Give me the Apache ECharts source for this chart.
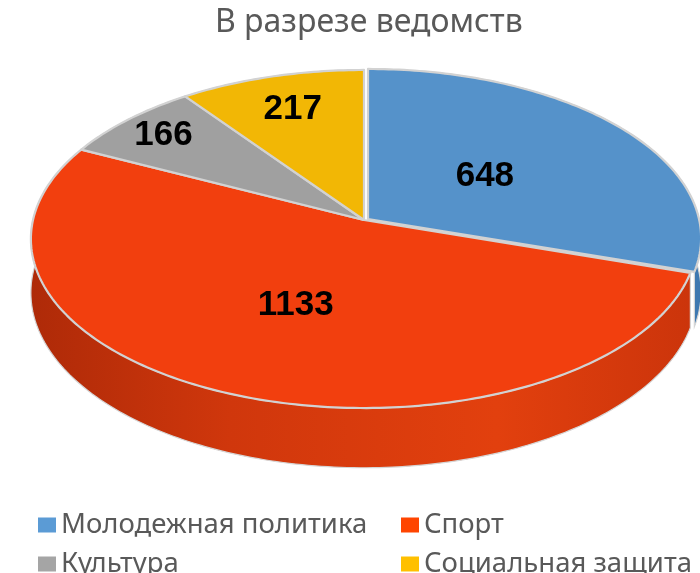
<!DOCTYPE html>
<html>
<head>
<meta charset="utf-8">
<script src="https://cdn.jsdelivr.net/npm/echarts@6/dist/echarts.min.js"></script>
<style>
  html, body { margin: 0; padding: 0; background: #fff; }
  #chart { width: 700px; height: 573px; }
</style>
</head>
<body>
<div id="chart"></div>
<script>
// данные диаграммы
var categories = ['Молодежная политика', 'Спорт', 'Культура', 'Социальная защита'];
var values = [648, 1133, 166, 217];

var topColors = ['#5592CA', '#F23F0E', '#A0A0A0', '#F2B705'];
var wallColors = ['#3E78B0', null, '#7F7F7F', '#C99600'];
var legendColors = ['#5B9BD5', '#FF4500', '#A5A5A5', '#FFC000'];

// геометрия "3D" эллипса (перспектива)
var cx = 364, cy = 220, RX = 331, RY = 166.9, K = -0.1124, T = 53;
var labelR = [0.45, 0.52, 0.84, 0.75];
var explode = [[4, -1], [0, 0], [0, 0], [0, 0]];

var total = values.reduce(function (a, b) { return a + b; }, 0);
var starts = [];
var acc = 0;
values.forEach(function (v) { starts.push(acc); acc += v; });

function proj(theta, f, off) {
  var u = f * Math.sin(theta), v = -f * Math.cos(theta);
  var s = 1 / (1 + K * v);
  return [cx + RX * u * s + off[0], cy + RY * v * s + off[1]];
}
function wallDrop(theta) {
  var v = -Math.cos(theta);
  return T / (1 + K * v);
}

var redWall = {
  type: 'linear', x: 30, y: 0, x2: 697, y2: 0, global: true,
  colorStops: [
    { offset: 0, color: '#AE2A08' },
    { offset: 0.3, color: '#D0370C' },
    { offset: 0.7, color: '#E2400E' },
    { offset: 1, color: '#CB340B' }
  ]
};

function renderItem(params, api) {
  var i = params.dataIndex;
  var val = api.value(0);
  var a0 = starts[i] / total * Math.PI * 2;
  var a1 = (starts[i] + val) / total * Math.PI * 2;
  var off = explode[i];
  var n = Math.max(4, Math.ceil((a1 - a0) / (Math.PI / 180)));
  var topPts = [proj(0, 0, off)];
  var rimTop = [], rimBot = [];
  for (var k = 0; k <= n; k++) {
    var t = a0 + (a1 - a0) * k / n;
    var p = proj(t, 1, off);
    topPts.push(p);
    rimTop.push(p);
    rimBot.push([p[0], p[1] + wallDrop(t)]);
  }
  var wallPts = rimTop.concat(rimBot.slice().reverse());
  var mid = (a0 + a1) / 2;
  var lp = proj(mid, labelR[i], off);
  return {
    type: 'group',
    children: [
      {
        type: 'polygon',
        z2: 1,
        shape: { points: wallPts },
        style: { fill: wallColors[i] || redWall, stroke: '#D6D6D6', lineWidth: 1.2 }
      },
      {
        type: 'polygon',
        z2: 10,
        shape: { points: topPts },
        style: { fill: topColors[i], stroke: '#D2D2D2', lineWidth: 2.2, lineJoin: 'round' }
      },
      {
        type: 'text',
        z2: 20,
        x: lp[0],
        y: lp[1],
        style: {
          text: String(val),
          fill: '#000',
          font: 'bold 35px "Liberation Sans", Arial, sans-serif',
          align: 'center',
          verticalAlign: 'middle'
        }
      }
    ]
  };
}

var chart = echarts.init(document.getElementById('chart'), null, { renderer: 'canvas' });

var pieData = categories.map(function (c, i) {
  return { name: c, value: values[i], itemStyle: { color: legendColors[i] } };
});

var legendBase = {
  orient: 'vertical',
  top: 505,
  height: 90,
  itemWidth: 18,
  itemHeight: 15,
  itemGap: 9,
  icon: 'rect',
  selectedMode: false,
  textStyle: {
    fontFamily: '"Noto Sans", sans-serif',
    fontSize: 27.5,
    color: '#595959',
    lineHeight: 30
  }
};

var option = {
  animation: false,
  title: {
    text: 'В разрезе ведомств',
    left: 210,
    top: 2,
    textStyle: {
      fontFamily: '"Noto Sans", sans-serif',
      fontSize: 32,
      fontWeight: 'normal',
      color: '#595959'
    }
  },
  legend: [
    Object.assign({}, legendBase, { left: 33, data: [categories[0], categories[2]] }),
    Object.assign({}, legendBase, { left: 396, data: [categories[1], categories[3]] })
  ],
  series: [
    {
      type: 'pie',
      radius: [0, 0],
      center: [cx, cy],
      silent: true,
      label: { show: false },
      labelLine: { show: false },
      data: pieData
    },
    {
      type: 'custom',
      coordinateSystem: 'none',
      renderItem: renderItem,
      silent: true,
      data: values.map(function (v, i) { return [v, i]; })
    }
  ]
};

chart.setOption(option);
</script>
</body>
</html>
